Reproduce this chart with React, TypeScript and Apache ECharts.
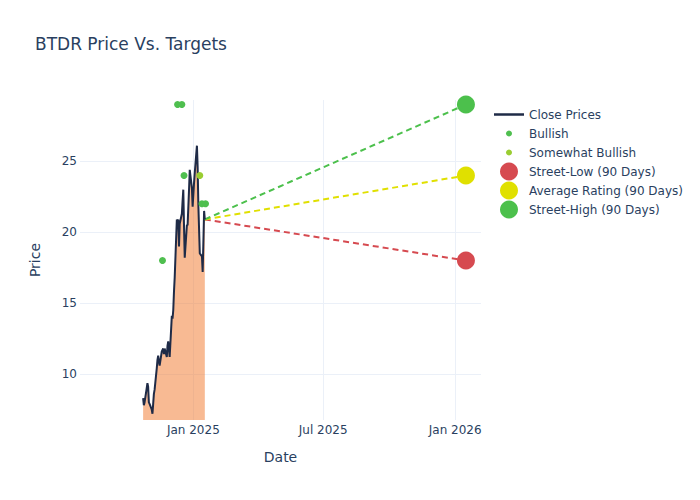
import React, { useEffect, useRef } from "react";
import * as echarts from "echarts";

const closeDates = [
  "2024-10-23", "2024-10-24", "2024-10-25", "2024-10-28", "2024-10-29", "2024-10-30", "2024-10-31",
  "2024-11-01", "2024-11-04", "2024-11-05", "2024-11-06", "2024-11-07", "2024-11-08", "2024-11-11",
  "2024-11-12", "2024-11-13", "2024-11-14", "2024-11-15", "2024-11-18", "2024-11-19", "2024-11-20",
  "2024-11-21", "2024-11-22", "2024-11-25", "2024-11-26", "2024-11-27", "2024-11-29", "2024-12-02",
  "2024-12-03", "2024-12-04", "2024-12-05", "2024-12-06", "2024-12-09", "2024-12-10", "2024-12-11",
  "2024-12-12", "2024-12-13", "2024-12-16", "2024-12-17", "2024-12-18", "2024-12-19", "2024-12-20",
  "2024-12-23", "2024-12-24", "2024-12-26", "2024-12-27", "2024-12-30", "2024-12-31", "2025-01-02",
  "2025-01-03", "2025-01-06", "2025-01-07", "2025-01-08", "2025-01-10", "2025-01-13", "2025-01-14",
  "2025-01-15", "2025-01-16", "2025-01-17",
];
const closePrices = [
  8.3, 7.8, 8.0, 9.0, 9.35, 9.1, 8.0,
  7.9, 7.5, 7.2, 7.9, 8.6, 8.9, 10.4,
  11.0, 11.3, 10.9, 10.6, 11.6, 11.7, 11.8,
  11.4, 11.8, 11.2, 12.0, 12.3, 11.2, 14.1,
  13.9, 14.5, 15.8, 16.8, 20.9, 20.7, 20.9,
  19.0, 20.6, 21.3, 22.2, 23.0, 20.4, 18.2,
  20.5, 20.5, 23.0, 24.4, 23.1, 21.8, 23.5,
  24.2, 26.1, 24.6, 21.9, 18.5, 18.3, 17.2,
  19.3, 21.5, 20.9,
];

const bullishDates = ["2024-11-19", "2024-12-10", "2024-12-16", "2024-12-19", "2025-01-13", "2025-01-18"];
const bullishTargets = [18, 29, 29, 24, 22, 22];
const somewhatBullishDates = ["2025-01-10"];
const somewhatBullishTargets = [24];

const targetDate = "2026-01-16";
const streetLow = 18;
const averageRating = 24;
const streetHigh = 29;

const xRange = ["2024-07-27", "2026-02-06"];
const xTickDates = ["2025-01-01", "2025-07-01", "2026-01-01"];
const yTickValues = [10, 15, 20, 25];
const MONTHS = ["Jan", "Feb", "Mar", "Apr", "May", "Jun", "Jul", "Aug", "Sep", "Oct", "Nov", "Dec"];

const TEXT = "#2a3f5f";
const GRID = "#ebf0f8";
const FONT = "'DejaVu Sans', 'Open Sans', Verdana, sans-serif";

const C_LINE = "#1f2b47";
const C_BULL = "#4fbf4f";
const C_SWB = "#9acd32";
const C_LOW = "#d64a50";
const C_AVG = "#e0e000";
const C_HIGH = "#4cc04c";

function ts(s: string): number {
  const [y, m, d] = s.split("-").map(Number);
  return new Date(y, m - 1, d).getTime();
}

export default function App() {
  const ref = useRef<HTMLDivElement>(null);
  useEffect(() => {
    if (!ref.current) return;
    const chart = echarts.init(ref.current, undefined, { renderer: "svg" });
    const lastDate = ts(closeDates[closeDates.length - 1]);
    const lastPrice = closePrices[closePrices.length - 1];
    const tDate = ts(targetDate);
    const legendCenters = [114.5, 133.5, 152.5, 171.5, 190.5, 209.5];
    const legendDefs = [
      { name: "Close Prices", h: 2.5, icon: "rect" },
      { name: "Bullish", h: 6, icon: "circle" },
      { name: "Somewhat Bullish", h: 6, icon: "circle" },
      { name: "Street-Low (90 Days)", h: 18, icon: "circle" },
      { name: "Average Rating (90 Days)", h: 18, icon: "circle" },
      { name: "Street-High (90 Days)", h: 18, icon: "circle" },
    ];
    const legends = legendDefs.map((d, i) => ({
      data: [{ name: d.name, icon: d.icon }],
      left: d.icon === "rect" ? 494 : 494 + (30 - d.h) / 2,
      top: legendCenters[i] - Math.max(d.h, 14) / 2,
      padding: 0,
      itemWidth: 30,
      itemHeight: d.h,
      itemGap: 0,
      selectedMode: false,
      textStyle: { color: TEXT, fontSize: 12, fontFamily: FONT, lineHeight: 14 },
    }));
    const dashSeries = (name: string, color: string, target: number) => ({
      name,
      type: "line",
      data: [
        [lastDate, lastPrice],
        [tDate, target],
      ],
      symbol: "none",
      lineStyle: { color, width: 2, type: [6, 4] },
      silent: true,
      z: 1,
    });
    const targetSeries = (name: string, color: string, value: number) => ({
      name,
      type: "scatter",
      data: [[tDate, value]],
      symbol: "circle",
      symbolSize: 18,
      itemStyle: { color, opacity: 1 },
      z: 4,
    });
    chart.setOption({
      animation: false,
      backgroundColor: "#ffffff",
      title: {
        text: "BTDR Price Vs. Targets",
        left: 35,
        top: 35,
        padding: 0,
        textStyle: { color: TEXT, fontSize: 17, fontWeight: "normal", fontFamily: FONT },
      },
      legend: legends,
      grid: { left: 80, right: 219, top: 100, bottom: 80, containLabel: false },
      xAxis: {
        type: "value",
        min: ts(xRange[0]),
        max: ts(xRange[1]),
        name: "Date",
        nameLocation: "middle",
        nameGap: 30,
        nameTextStyle: { color: TEXT, fontSize: 14, fontFamily: FONT },
        axisLine: { show: false },
        axisTick: { show: false, customValues: xTickDates.map(ts) },
        axisLabel: {
          customValues: xTickDates.map(ts),
          color: TEXT,
          fontSize: 12,
          fontFamily: FONT,
          margin: 4,
          formatter: (v: number) => {
            const d = new Date(v);
            return MONTHS[d.getMonth()] + " " + d.getFullYear();
          },
        },
        splitLine: { show: true, lineStyle: { color: GRID, width: 1 } },
      },
      yAxis: {
        type: "value",
        min: 6.76,
        max: 29.32,
        name: "Price",
        nameLocation: "middle",
        nameGap: 38,
        nameTextStyle: { color: TEXT, fontSize: 14, fontFamily: FONT },
        axisLine: { show: false },
        axisTick: { show: false, customValues: yTickValues },
        axisLabel: { customValues: yTickValues, color: TEXT, fontSize: 12, fontFamily: FONT, margin: 3 },
        splitLine: { show: true, lineStyle: { color: GRID, width: 1 } },
      },
      series: [
        {
          name: "Close Prices",
          type: "line",
          data: closeDates.map((d, i) => [ts(d), closePrices[i]]),
          symbol: "none",
          lineStyle: { color: C_LINE, width: 2 },
          itemStyle: { color: C_LINE },
          areaStyle: { color: "rgba(242,117,40,0.5)", opacity: 1 },
          z: 2,
        },
        dashSeries("low-line", C_LOW, streetLow),
        dashSeries("avg-line", C_AVG, averageRating),
        dashSeries("high-line", C_HIGH, streetHigh),
        {
          name: "Bullish",
          type: "scatter",
          data: bullishDates.map((d, i) => [ts(d), bullishTargets[i]]),
          symbol: "circle",
          symbolSize: 7,
          itemStyle: { color: C_BULL, opacity: 1 },
          z: 3,
        },
        {
          name: "Somewhat Bullish",
          type: "scatter",
          data: somewhatBullishDates.map((d, i) => [ts(d), somewhatBullishTargets[i]]),
          symbol: "circle",
          symbolSize: 7,
          itemStyle: { color: C_SWB, opacity: 1 },
          z: 3,
        },
        targetSeries("Street-Low (90 Days)", C_LOW, streetLow),
        targetSeries("Average Rating (90 Days)", C_AVG, averageRating),
        targetSeries("Street-High (90 Days)", C_HIGH, streetHigh),
      ],
    });
    return () => chart.dispose();
  }, []);
  return <div ref={ref} style={{ width: 700, height: 500, position: "absolute", left: 0, top: 0 }} />;
}
